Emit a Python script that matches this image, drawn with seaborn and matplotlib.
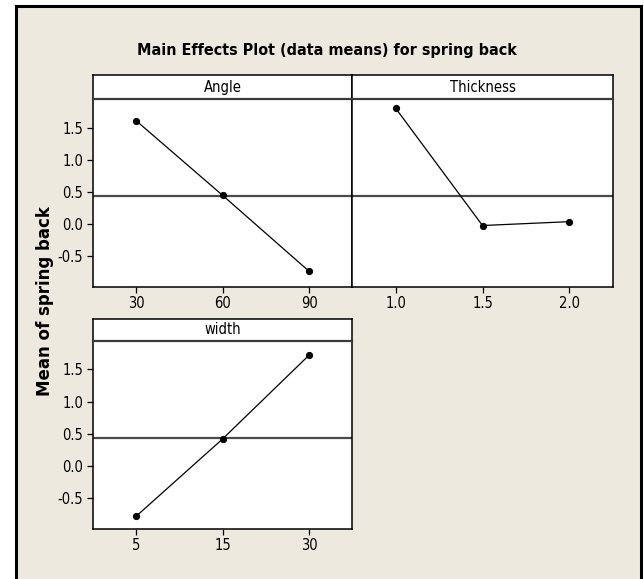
import matplotlib
matplotlib.use("Agg")
import matplotlib.pyplot as plt
import seaborn as sns
import pandas as pd
from matplotlib.patches import Rectangle

# ---- data ----
factors = ["Angle", "Thickness", "width"]
angle_levels = ["30", "60", "90"]
angle_means = [1.61, 0.45, -0.73]
thickness_levels = ["1.0", "1.5", "2.0"]
thickness_means = [1.80, -0.02, 0.04]
width_levels = ["5", "15", "30"]
width_means = [-0.78, 0.42, 1.72]
grand_mean = 0.44
y_ticks = [-0.5, 0.0, 0.5, 1.0, 1.5]
y_tick_labels = ["-0.5", "0.0", "0.5", "1.0", "1.5"]
title = "Main Effects Plot (data means) for spring back"
y_label = "Mean of spring back"

sns.set_theme(style="white")
plt.rcParams["font.family"] = ["DejaVu Sans"]
plt.rcParams["font.stretch"] = "condensed"

W, H = 644, 579
BG = "#EDE9DF"
fig = plt.figure(figsize=(W / 100, H / 100), dpi=100, facecolor="white")

# beige frame with black border (left, top, right)
fig.patches.append(Rectangle((15.5 / W, -0.05), (640.5 - 15.5) / W, 1.05 - 5.5 / H,
                             transform=fig.transFigure, facecolor=BG,
                             edgecolor="black", linewidth=2.2, zorder=-5))


def fx(px):
    return px / W


def fy(py):
    return 1 - py / H


panels = [
    # (name, levels, means, left, right, strip_top, axes_top, axes_bottom, show_y)
    (factors[0], angle_levels, angle_means, 92.7, 352.3, 75.3, 99.3, 286.7, True),
    (factors[1], thickness_levels, thickness_means, 352.3, 612.7, 75.3, 99.3, 286.7, False),
    (factors[2], width_levels, width_means, 92.7, 352.3, 318.5, 341.0, 528.7, True),
]

tick_fs = 10.5
for name, levels, means, l, r, st, at, ab, show_y in panels:
    ax = fig.add_axes([fx(l), fy(ab), fx(r) - fx(l), fy(at) - fy(ab)])
    ax.set_facecolor("white")
    df = pd.DataFrame({"level": levels, "mean": means})
    sns.pointplot(data=df, x="level", y="mean", order=levels, color="black",
                  markers="o", markersize=4.5, linewidth=0.9, errorbar=None, ax=ax)
    ax.axhline(grand_mean, color="#4a4a4a", lw=1.6, zorder=1)
    ax.set_xlim(-0.5, len(levels) - 0.5)
    ax.set_ylim(-0.97, 1.94)
    ax.set_xlabel("")
    ax.set_ylabel("")
    ax.set_yticks(y_ticks)
    ax.tick_params(axis="both", which="both", direction="out", length=4.5, width=0.9,
                   color="black", labelsize=tick_fs, labelcolor="black", pad=2.5)
    ax.tick_params(axis="x", bottom=True)
    if show_y:
        ax.set_yticklabels(y_tick_labels)
        ax.tick_params(axis="y", left=True)
    else:
        ax.tick_params(axis="y", left=False, labelleft=False)
    for s in ax.spines.values():
        s.set_visible(True)
        s.set_color("black")
        s.set_linewidth(1.1)

    sax = fig.add_axes([fx(l), fy(at), fx(r) - fx(l), fy(st) - fy(at)])
    sax.set_facecolor("white")
    sax.set_xticks([])
    sax.set_yticks([])
    for s in sax.spines.values():
        s.set_visible(True)
        s.set_color("black")
        s.set_linewidth(1.1)
    sax.spines["bottom"].set_color("#3a3a3a")
    sax.spines["bottom"].set_linewidth(1.6)
    sax.text(0.5, 0.5, name, ha="center", va="center", fontsize=tick_fs,
             color="black", transform=sax.transAxes)

fig.text(fx(327), fy(55), title, ha="center", va="baseline", fontsize=11.5,
         fontweight="bold", color="black")
fig.text(fx(45), fy(301), y_label, ha="center", va="center", rotation=90,
         fontsize=12, fontweight="bold", color="black", fontstretch="normal")

fig.savefig("out.png", dpi=100, facecolor="white")
